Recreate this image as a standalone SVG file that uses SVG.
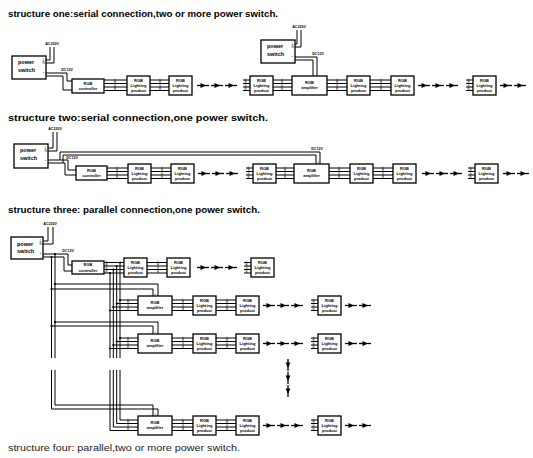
<svg xmlns="http://www.w3.org/2000/svg" xmlns:xlink="http://www.w3.org/1999/xlink" width="533" height="458" viewBox="0 0 533 458">
<style>
.bx{fill:#fff;stroke:#000;stroke-width:1.3}
.w{fill:none;stroke:#000;stroke-width:1}
.t{font-family:"Liberation Sans",Arial,sans-serif;font-size:4px;font-weight:bold;text-anchor:middle;fill:#000}
.ps{font-family:"Liberation Sans",Arial,sans-serif;font-size:5.5px;font-weight:bold;fill:#000}
.lb{font-family:"Liberation Sans",Arial,sans-serif;font-size:3px;text-anchor:middle;fill:#000}
.vl{font-family:"Liberation Sans",Arial,sans-serif;font-size:3.6px;font-weight:bold;text-anchor:middle;fill:#000}
.ttl{font-family:"Liberation Sans",Arial,sans-serif;font-size:9px;font-weight:bold;fill:#000}
.ttl4{font-family:"Liberation Sans",Arial,sans-serif;font-size:9.5px;fill:#222}
.dot{fill:#000}
</style>
<defs>
<g id="ar"><path d="M0,0 H12" stroke="#000" stroke-width="1.3" fill="none"/><path d="M3.5,-2.4 L9,0 L3.5,2.4 Z" fill="#000"/></g>
</defs>

<g id="titles">
<text class="ttl" x="8" y="17" textLength="270" lengthAdjust="spacingAndGlyphs">structure one:serial connection,two or more power switch.</text>
<text class="ttl" x="8" y="121" textLength="260" lengthAdjust="spacingAndGlyphs">structure two:serial connection,one power switch.</text>
<text class="ttl" x="8" y="213" textLength="252" lengthAdjust="spacingAndGlyphs">structure three: parallel connection,one power switch.</text>
<text class="ttl4" x="8" y="451" textLength="232" lengthAdjust="spacingAndGlyphs">structure four: parallel,two or more power switch.</text>
</g>

<g id="connectors">
<!-- structure one -->
<path class="w" d="M46,60 H50 V47 M46,63 H54 V47"/>
<path class="w" d="M46,73 H67 V81 H72 M46,76 H63 V90 H72"/>
<path class="w" d="M104,80 H127 M104,83.5 H127 M104,87 H127 M104,90.5 H127"/>
<path class="w" d="M150,80 H169 M150,83.5 H169 M150,87 H169 M150,90.5 H169"/>
<path class="w" d="M243,80 H250 M243,83.5 H250 M243,87 H250 M243,90.5 H250"/>
<path class="w" d="M273,80 H292 M273,83.5 H292 M273,87 H292 M273,90.5 H292"/>
<path class="w" d="M295,44 H297 V30 M295,47 H301 V30"/>
<path class="w" d="M295,57 H317 V76 M295,60 H313 V76"/>
<path class="w" d="M327,80 H347 M327,83.5 H347 M327,87 H347 M327,90.5 H347"/>
<path class="w" d="M370,80 H391 M370,83.5 H391 M370,87 H391 M370,90.5 H391"/>
<path class="w" d="M466,80 H473 M466,83.5 H473 M466,87 H473 M466,90.5 H473"/>
<use xlink:href="#ar" href="#ar" x="197" y="85.5"/><use xlink:href="#ar" href="#ar" x="211" y="85.5"/><use xlink:href="#ar" href="#ar" x="225" y="85.5"/>
<use xlink:href="#ar" href="#ar" x="418" y="85.5"/><use xlink:href="#ar" href="#ar" x="432" y="85.5"/><use xlink:href="#ar" href="#ar" x="446" y="85.5"/>
<use xlink:href="#ar" href="#ar" x="500" y="85.5"/><use xlink:href="#ar" href="#ar" x="514" y="85.5"/>

<!-- structure two -->
<path class="w" d="M48,148 H53 V132 M48,151 H57 V132"/>
<path class="w" d="M48,160 H60 V152 H320 V164 M48,163 H63 V155 H316 V164"/>
<path class="w" d="M60,160 H68 V170 H76 M63,163 H65 V175 H76"/>
<path class="w" d="M107,168 H128 M107,171.5 H128 M107,175 H128 M107,178.5 H128"/>
<path class="w" d="M151,168 H171 M151,171.5 H171 M151,175 H171 M151,178.5 H171"/>
<path class="w" d="M246,168 H253 M246,171.5 H253 M246,175 H253 M246,178.5 H253"/>
<path class="w" d="M276,168 H294 M276,171.5 H294 M276,175 H294 M276,178.5 H294"/>
<path class="w" d="M329,168 H350 M329,171.5 H350 M329,175 H350 M329,178.5 H350"/>
<path class="w" d="M373,168 H393 M373,171.5 H393 M373,175 H393 M373,178.5 H393"/>
<path class="w" d="M468,168 H475 M468,171.5 H475 M468,175 H475 M468,178.5 H475"/>
<use xlink:href="#ar" href="#ar" x="198" y="173.5"/><use xlink:href="#ar" href="#ar" x="212" y="173.5"/><use xlink:href="#ar" href="#ar" x="226" y="173.5"/>
<use xlink:href="#ar" href="#ar" x="422" y="173.5"/><use xlink:href="#ar" href="#ar" x="436" y="173.5"/><use xlink:href="#ar" href="#ar" x="450" y="173.5"/>
<use xlink:href="#ar" href="#ar" x="503" y="173.5"/><use xlink:href="#ar" href="#ar" x="517" y="173.5"/>

<!-- structure three -->
<path class="w" d="M43,241 H48 V227 M43,244 H53 V227"/>
<path class="w" d="M43,254 H68 V265 H72 M43,257 H64 V271 H72"/>
<path class="w" d="M55,254 V358 M55,370 V405 H153 V416 M51.5,257 V358 M51.5,370 V409 H158 V416"/>
<path class="w" d="M55,284 H158 V296 M51.5,289 H153 V296"/>
<path class="w" d="M55,322 H158 V334 M51.5,326 H153 V334"/>
<path class="w" d="M104,262.5 H124 M104,266 H124 M104,269.5 H124 M104,273 H124"/>
<path class="w" d="M147,262.5 H167 M147,266 H167 M147,269.5 H167 M147,273 H167"/>
<path class="w" d="M244,262.5 H251 M244,266 H251 M244,269.5 H251 M244,273 H251"/>
<use xlink:href="#ar" href="#ar" x="197" y="267.5"/><use xlink:href="#ar" href="#ar" x="211" y="267.5"/><use xlink:href="#ar" href="#ar" x="225" y="267.5"/>
<path class="w" d="M120,262.5 V358 M120,370 V420 H138 M116.7,266 V358 M116.7,370 V423.5 H138 M113.3,269.5 V358 M113.3,370 V427 H138 M110,273 V358 M110,370 V430.5 H138"/>
<path class="w" d="M120,300 H138 M116.7,303.5 H138 M113.3,307 H138 M110,310.5 H138"/>
<path class="w" d="M120,338 H138 M116.7,341.5 H138 M113.3,345 H138 M110,348.5 H138"/>
<path class="w" d="M172,300 H193 M172,303.5 H193 M172,307 H193 M172,310.5 H193 M216,300 H236 M216,303.5 H236 M216,307 H236 M216,310.5 H236 M311,300 H318 M311,303.5 H318 M311,307 H318 M311,310.5 H318"/>
<path class="w" d="M172,338 H193 M172,341.5 H193 M172,345 H193 M172,348.5 H193 M216,338 H236 M216,341.5 H236 M216,345 H236 M216,348.5 H236 M311,338 H318 M311,341.5 H318 M311,345 H318 M311,348.5 H318"/>
<path class="w" d="M172,420 H193 M172,423.5 H193 M172,427 H193 M172,430.5 H193 M216,420 H236 M216,423.5 H236 M216,427 H236 M216,430.5 H236 M311,420 H318 M311,423.5 H318 M311,427 H318 M311,430.5 H318"/>
<use xlink:href="#ar" href="#ar" x="263" y="305.5"/><use xlink:href="#ar" href="#ar" x="277" y="305.5"/><use xlink:href="#ar" href="#ar" x="291" y="305.5"/>
<use xlink:href="#ar" href="#ar" x="345" y="305.5"/><use xlink:href="#ar" href="#ar" x="359" y="305.5"/>
<use xlink:href="#ar" href="#ar" x="263" y="343.5"/><use xlink:href="#ar" href="#ar" x="277" y="343.5"/><use xlink:href="#ar" href="#ar" x="291" y="343.5"/>
<use xlink:href="#ar" href="#ar" x="345" y="343.5"/><use xlink:href="#ar" href="#ar" x="359" y="343.5"/>
<use xlink:href="#ar" href="#ar" x="263" y="425.5"/><use xlink:href="#ar" href="#ar" x="277" y="425.5"/><use xlink:href="#ar" href="#ar" x="291" y="425.5"/>
<use xlink:href="#ar" href="#ar" x="345" y="425.5"/><use xlink:href="#ar" href="#ar" x="359" y="425.5"/>
<use xlink:href="#ar" href="#ar" transform="translate(288,359) rotate(90)"/>
<use xlink:href="#ar" href="#ar" transform="translate(288,372) rotate(90)"/>
<use xlink:href="#ar" href="#ar" transform="translate(288,385) rotate(90)"/>
<circle class="dot" cx="55" cy="254" r="1.1"/><circle class="dot" cx="51.5" cy="257" r="1.1"/>
<circle class="dot" cx="55" cy="284" r="1.1"/><circle class="dot" cx="51.5" cy="289" r="1.1"/>
<circle class="dot" cx="55" cy="322" r="1.1"/><circle class="dot" cx="51.5" cy="326" r="1.1"/>
<circle class="dot" cx="120" cy="262.5" r="1.1"/><circle class="dot" cx="116.7" cy="266" r="1.1"/><circle class="dot" cx="113.3" cy="269.5" r="1.1"/><circle class="dot" cx="110" cy="273" r="1.1"/>
<circle class="dot" cx="120" cy="300" r="1.1"/><circle class="dot" cx="116.7" cy="303.5" r="1.1"/><circle class="dot" cx="113.3" cy="307" r="1.1"/><circle class="dot" cx="110" cy="310.5" r="1.1"/>
<circle class="dot" cx="120" cy="338" r="1.1"/><circle class="dot" cx="116.7" cy="341.5" r="1.1"/><circle class="dot" cx="113.3" cy="345" r="1.1"/><circle class="dot" cx="110" cy="348.5" r="1.1"/>
</g>

<g id="wire-labels">
<text class="vl" x="52" y="45">AC220V</text>
<text class="vl" x="67" y="70.5">DC12V</text>
<text class="vl" x="299" y="28">AC220V</text>
<text class="vl" x="318" y="54.5">DC12V</text>
<text class="vl" x="55" y="130">AC220V</text>
<text class="vl" x="72" y="158.8">DC12V</text>
<text class="vl" x="317" y="149.5">DC12V</text>
<text class="lb" x="313" y="163">-</text><text class="lb" x="318.3" y="163">+</text>
<text class="vl" x="50" y="225">AC220V</text>
<text class="vl" x="68" y="251.5">DC12V</text>
<text class="lb" x="150.5" y="294.5">-</text><text class="lb" x="155.5" y="294.5">+</text>
<text class="lb" x="150.5" y="332.5">-</text><text class="lb" x="155.5" y="332.5">+</text>
<text class="lb" x="150.5" y="414.5">-</text><text class="lb" x="155.5" y="414.5">+</text>
<text class="lb"><tspan x="115" y="79.7">+</tspan><tspan x="115" y="83.2">R</tspan><tspan x="115" y="86.7">G</tspan><tspan x="115" y="90.2">B</tspan></text>
<text class="lb"><tspan x="160" y="79.7">+</tspan><tspan x="160" y="83.2">R</tspan><tspan x="160" y="86.7">G</tspan><tspan x="160" y="90.2">B</tspan></text>
<text class="lb"><tspan x="245.5" y="79.7">+</tspan><tspan x="245.5" y="83.2">R</tspan><tspan x="245.5" y="86.7">G</tspan><tspan x="245.5" y="90.2">B</tspan></text>
<text class="lb"><tspan x="282" y="79.7">+</tspan><tspan x="282" y="83.2">R</tspan><tspan x="282" y="86.7">G</tspan><tspan x="282" y="90.2">B</tspan></text>
<text class="lb"><tspan x="337" y="79.7">+</tspan><tspan x="337" y="83.2">R</tspan><tspan x="337" y="86.7">G</tspan><tspan x="337" y="90.2">B</tspan></text>
<text class="lb"><tspan x="381" y="79.7">+</tspan><tspan x="381" y="83.2">R</tspan><tspan x="381" y="86.7">G</tspan><tspan x="381" y="90.2">B</tspan></text>
<text class="lb"><tspan x="468.5" y="79.7">+</tspan><tspan x="468.5" y="83.2">R</tspan><tspan x="468.5" y="86.7">G</tspan><tspan x="468.5" y="90.2">B</tspan></text>
<text class="lb"><tspan x="117" y="167.7">+</tspan><tspan x="117" y="171.2">R</tspan><tspan x="117" y="174.7">G</tspan><tspan x="117" y="178.2">B</tspan></text>
<text class="lb"><tspan x="162" y="167.7">+</tspan><tspan x="162" y="171.2">R</tspan><tspan x="162" y="174.7">G</tspan><tspan x="162" y="178.2">B</tspan></text>
<text class="lb"><tspan x="248.5" y="167.7">+</tspan><tspan x="248.5" y="171.2">R</tspan><tspan x="248.5" y="174.7">G</tspan><tspan x="248.5" y="178.2">B</tspan></text>
<text class="lb"><tspan x="285" y="167.7">+</tspan><tspan x="285" y="171.2">R</tspan><tspan x="285" y="174.7">G</tspan><tspan x="285" y="178.2">B</tspan></text>
<text class="lb"><tspan x="339" y="167.7">+</tspan><tspan x="339" y="171.2">R</tspan><tspan x="339" y="174.7">G</tspan><tspan x="339" y="178.2">B</tspan></text>
<text class="lb"><tspan x="383" y="167.7">+</tspan><tspan x="383" y="171.2">R</tspan><tspan x="383" y="174.7">G</tspan><tspan x="383" y="178.2">B</tspan></text>
<text class="lb"><tspan x="470.5" y="167.7">+</tspan><tspan x="470.5" y="171.2">R</tspan><tspan x="470.5" y="174.7">G</tspan><tspan x="470.5" y="178.2">B</tspan></text>
<text class="lb"><tspan x="106.5" y="262.2">+</tspan><tspan x="106.5" y="265.7">R</tspan><tspan x="106.5" y="269.2">G</tspan><tspan x="106.5" y="272.7">B</tspan></text>
<text class="lb"><tspan x="158" y="262.2">+</tspan><tspan x="158" y="265.7">R</tspan><tspan x="158" y="269.2">G</tspan><tspan x="158" y="272.7">B</tspan></text>
<text class="lb"><tspan x="246.5" y="262.2">+</tspan><tspan x="246.5" y="265.7">R</tspan><tspan x="246.5" y="269.2">G</tspan><tspan x="246.5" y="272.7">B</tspan></text>
<text class="lb"><tspan x="128" y="299.7">+</tspan><tspan x="128" y="303.2">R</tspan><tspan x="128" y="306.7">G</tspan><tspan x="128" y="310.2">B</tspan></text>
<text class="lb"><tspan x="183" y="299.7">+</tspan><tspan x="183" y="303.2">R</tspan><tspan x="183" y="306.7">G</tspan><tspan x="183" y="310.2">B</tspan></text>
<text class="lb"><tspan x="227" y="299.7">+</tspan><tspan x="227" y="303.2">R</tspan><tspan x="227" y="306.7">G</tspan><tspan x="227" y="310.2">B</tspan></text>
<text class="lb"><tspan x="313.5" y="299.7">+</tspan><tspan x="313.5" y="303.2">R</tspan><tspan x="313.5" y="306.7">G</tspan><tspan x="313.5" y="310.2">B</tspan></text>
<text class="lb"><tspan x="128" y="337.7">+</tspan><tspan x="128" y="341.2">R</tspan><tspan x="128" y="344.7">G</tspan><tspan x="128" y="348.2">B</tspan></text>
<text class="lb"><tspan x="183" y="337.7">+</tspan><tspan x="183" y="341.2">R</tspan><tspan x="183" y="344.7">G</tspan><tspan x="183" y="348.2">B</tspan></text>
<text class="lb"><tspan x="227" y="337.7">+</tspan><tspan x="227" y="341.2">R</tspan><tspan x="227" y="344.7">G</tspan><tspan x="227" y="348.2">B</tspan></text>
<text class="lb"><tspan x="313.5" y="337.7">+</tspan><tspan x="313.5" y="341.2">R</tspan><tspan x="313.5" y="344.7">G</tspan><tspan x="313.5" y="348.2">B</tspan></text>
<text class="lb"><tspan x="128" y="419.7">+</tspan><tspan x="128" y="423.2">R</tspan><tspan x="128" y="426.7">G</tspan><tspan x="128" y="430.2">B</tspan></text>
<text class="lb"><tspan x="183" y="419.7">+</tspan><tspan x="183" y="423.2">R</tspan><tspan x="183" y="426.7">G</tspan><tspan x="183" y="430.2">B</tspan></text>
<text class="lb"><tspan x="227" y="419.7">+</tspan><tspan x="227" y="423.2">R</tspan><tspan x="227" y="426.7">G</tspan><tspan x="227" y="430.2">B</tspan></text>
<text class="lb"><tspan x="313.5" y="419.7">+</tspan><tspan x="313.5" y="423.2">R</tspan><tspan x="313.5" y="426.7">G</tspan><tspan x="313.5" y="430.2">B</tspan></text>
</g>

<g id="ps1"><rect class="bx" x="12" y="56" width="34" height="23"/><text class="ps" x="18" y="64">power</text><text class="ps" x="18" y="72">switch</text>
<text class="lb" x="43.5" y="61">L</text><text class="lb" x="43.5" y="64">N</text><text class="lb" x="43.5" y="73">+</text><text class="lb" x="43.5" y="76.5">-</text></g>
<g id="ctrl1"><rect class="bx" x="72" y="79" width="32" height="14"/><text class="t" x="88" y="84.5">RGB</text><text class="t" x="88" y="90">controller</text></g>
<g id="p1a"><rect class="bx" x="127" y="76" width="23" height="19"/><text class="t" x="138.5" y="81.5">RGB</text><text class="t" x="138.5" y="86.5">Lighting</text><text class="t" x="138.5" y="91.5">product</text></g>
<g id="p1b"><rect class="bx" x="169" y="76" width="23" height="19"/><text class="t" x="180.5" y="81.5">RGB</text><text class="t" x="180.5" y="86.5">Lighting</text><text class="t" x="180.5" y="91.5">product</text></g>
<g id="p1c"><rect class="bx" x="250" y="76" width="23" height="19"/><text class="t" x="261.5" y="81.5">RGB</text><text class="t" x="261.5" y="86.5">Lighting</text><text class="t" x="261.5" y="91.5">product</text></g>
<g id="ps2"><rect class="bx" x="261" y="40" width="34" height="23"/><text class="ps" x="267" y="48">power</text><text class="ps" x="267" y="56">switch</text>
<text class="lb" x="292.5" y="45">L</text><text class="lb" x="292.5" y="48">N</text><text class="lb" x="292.5" y="57">+</text><text class="lb" x="292.5" y="60.5">-</text></g>
<g id="amp1"><rect class="bx" x="292" y="76" width="35" height="19"/><text class="t" x="309.5" y="83.5">RGB</text><text class="t" x="309.5" y="89">amplifier</text></g>
<g id="p1d"><rect class="bx" x="347" y="76" width="23" height="19"/><text class="t" x="358.5" y="81.5">RGB</text><text class="t" x="358.5" y="86.5">Lighting</text><text class="t" x="358.5" y="91.5">product</text></g>
<g id="p1e"><rect class="bx" x="391" y="76" width="23" height="19"/><text class="t" x="402.5" y="81.5">RGB</text><text class="t" x="402.5" y="86.5">Lighting</text><text class="t" x="402.5" y="91.5">product</text></g>
<g id="p1f"><rect class="bx" x="473" y="76" width="23" height="19"/><text class="t" x="484.5" y="81.5">RGB</text><text class="t" x="484.5" y="86.5">Lighting</text><text class="t" x="484.5" y="91.5">product</text></g>

<g id="ps3"><rect class="bx" x="14" y="144" width="34" height="24"/><text class="ps" x="20" y="152">power</text><text class="ps" x="20" y="160">switch</text>
<text class="lb" x="45.5" y="149">L</text><text class="lb" x="45.5" y="152">N</text><text class="lb" x="45.5" y="160.5">+</text><text class="lb" x="45.5" y="164">-</text></g>
<g id="ctrl2"><rect class="bx" x="76" y="166" width="31" height="14"/><text class="t" x="91.5" y="171.5">RGB</text><text class="t" x="91.5" y="177">controller</text></g>
<g id="p2a"><rect class="bx" x="128" y="164" width="23" height="19"/><text class="t" x="139.5" y="169.5">RGB</text><text class="t" x="139.5" y="174.5">Lighting</text><text class="t" x="139.5" y="179.5">product</text></g>
<g id="p2b"><rect class="bx" x="171" y="164" width="23" height="19"/><text class="t" x="182.5" y="169.5">RGB</text><text class="t" x="182.5" y="174.5">Lighting</text><text class="t" x="182.5" y="179.5">product</text></g>
<g id="p2c"><rect class="bx" x="253" y="164" width="23" height="19"/><text class="t" x="264.5" y="169.5">RGB</text><text class="t" x="264.5" y="174.5">Lighting</text><text class="t" x="264.5" y="179.5">product</text></g>
<g id="amp2"><rect class="bx" x="294" y="164" width="35" height="19"/><text class="t" x="311.5" y="171.5">RGB</text><text class="t" x="311.5" y="177">amplifier</text></g>
<g id="p2d"><rect class="bx" x="350" y="164" width="23" height="19"/><text class="t" x="361.5" y="169.5">RGB</text><text class="t" x="361.5" y="174.5">Lighting</text><text class="t" x="361.5" y="179.5">product</text></g>
<g id="p2e"><rect class="bx" x="393" y="164" width="23" height="19"/><text class="t" x="404.5" y="169.5">RGB</text><text class="t" x="404.5" y="174.5">Lighting</text><text class="t" x="404.5" y="179.5">product</text></g>
<g id="p2f"><rect class="bx" x="475" y="164" width="23" height="19"/><text class="t" x="486.5" y="169.5">RGB</text><text class="t" x="486.5" y="174.5">Lighting</text><text class="t" x="486.5" y="179.5">product</text></g>

<g id="ps4"><rect class="bx" x="11" y="237" width="32" height="22"/><text class="ps" x="17" y="245.5">power</text><text class="ps" x="17" y="253">switch</text>
<text class="lb" x="40.5" y="242">L</text><text class="lb" x="40.5" y="245">N</text><text class="lb" x="40.5" y="254">+</text><text class="lb" x="40.5" y="257.5">-</text></g>
<g id="ctrl3"><rect class="bx" x="72" y="261" width="32" height="13"/><text class="t" x="88" y="266">RGB</text><text class="t" x="88" y="271.5">controller</text></g>
<g id="p3a"><rect class="bx" x="124" y="258" width="23" height="19"/><text class="t" x="135.5" y="263.5">RGB</text><text class="t" x="135.5" y="268.5">Lighting</text><text class="t" x="135.5" y="273.5">product</text></g>
<g id="p3b"><rect class="bx" x="167" y="258" width="23" height="19"/><text class="t" x="178.5" y="263.5">RGB</text><text class="t" x="178.5" y="268.5">Lighting</text><text class="t" x="178.5" y="273.5">product</text></g>
<g id="p3c"><rect class="bx" x="251" y="258" width="23" height="19"/><text class="t" x="262.5" y="263.5">RGB</text><text class="t" x="262.5" y="268.5">Lighting</text><text class="t" x="262.5" y="273.5">product</text></g>

<g id="ampA"><rect class="bx" x="138" y="296" width="34" height="19"/><text class="t" x="155" y="303.5">RGB</text><text class="t" x="155" y="309">amplifier</text></g>
<g id="pA1"><rect class="bx" x="193" y="296" width="23" height="19"/><text class="t" x="204.5" y="301.5">RGB</text><text class="t" x="204.5" y="306.5">Lighting</text><text class="t" x="204.5" y="311.5">product</text></g>
<g id="pA2"><rect class="bx" x="236" y="296" width="23" height="19"/><text class="t" x="247.5" y="301.5">RGB</text><text class="t" x="247.5" y="306.5">Lighting</text><text class="t" x="247.5" y="311.5">product</text></g>
<g id="pA3"><rect class="bx" x="318" y="296" width="23" height="19"/><text class="t" x="329.5" y="301.5">RGB</text><text class="t" x="329.5" y="306.5">Lighting</text><text class="t" x="329.5" y="311.5">product</text></g>

<g id="ampB"><rect class="bx" x="138" y="334" width="34" height="19"/><text class="t" x="155" y="341.5">RGB</text><text class="t" x="155" y="347">amplifier</text></g>
<g id="pB1"><rect class="bx" x="193" y="334" width="23" height="19"/><text class="t" x="204.5" y="339.5">RGB</text><text class="t" x="204.5" y="344.5">Lighting</text><text class="t" x="204.5" y="349.5">product</text></g>
<g id="pB2"><rect class="bx" x="236" y="334" width="23" height="19"/><text class="t" x="247.5" y="339.5">RGB</text><text class="t" x="247.5" y="344.5">Lighting</text><text class="t" x="247.5" y="349.5">product</text></g>
<g id="pB3"><rect class="bx" x="318" y="334" width="23" height="19"/><text class="t" x="329.5" y="339.5">RGB</text><text class="t" x="329.5" y="344.5">Lighting</text><text class="t" x="329.5" y="349.5">product</text></g>

<g id="ampC"><rect class="bx" x="138" y="416" width="34" height="19"/><text class="t" x="155" y="423.5">RGB</text><text class="t" x="155" y="429">amplifier</text></g>
<g id="pC1"><rect class="bx" x="193" y="416" width="23" height="19"/><text class="t" x="204.5" y="421.5">RGB</text><text class="t" x="204.5" y="426.5">Lighting</text><text class="t" x="204.5" y="431.5">product</text></g>
<g id="pC2"><rect class="bx" x="236" y="416" width="23" height="19"/><text class="t" x="247.5" y="421.5">RGB</text><text class="t" x="247.5" y="426.5">Lighting</text><text class="t" x="247.5" y="431.5">product</text></g>
<g id="pC3"><rect class="bx" x="318" y="416" width="23" height="19"/><text class="t" x="329.5" y="421.5">RGB</text><text class="t" x="329.5" y="426.5">Lighting</text><text class="t" x="329.5" y="431.5">product</text></g>
</svg>
